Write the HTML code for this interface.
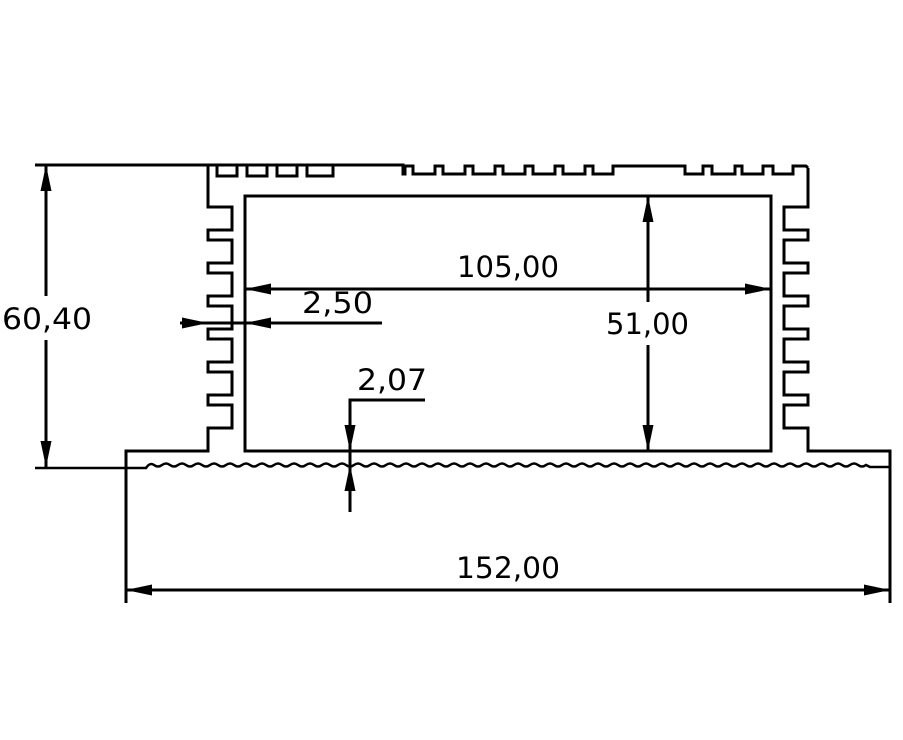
<!DOCTYPE html>
<html><head><meta charset="utf-8"><style>
html,body{margin:0;padding:0;background:#fff;}
svg{display:block}
text{font-family:"DejaVu Sans","Liberation Sans",sans-serif;font-size:29px;fill:#000}
</style></head><body>
<svg width="903" height="740" viewBox="0 0 903 740" xmlns="http://www.w3.org/2000/svg">
<defs>
<marker id="a" viewBox="0 0 26 12" refX="26" refY="6" markerWidth="26" markerHeight="12" markerUnits="userSpaceOnUse" orient="auto-start-reverse"><path d="M0,0.5 L26,6 L0,11.5 z" fill="#000"/></marker>
</defs>
<g fill="none" stroke="#000" stroke-width="3" stroke-linejoin="miter">
<line x1="35" y1="165" x2="368" y2="165"/>
<rect x="217" y="165" width="20" height="11"/>
<rect x="247" y="165" width="20" height="11"/>
<rect x="277" y="165" width="20" height="11"/>
<rect x="307" y="165" width="26" height="11"/>
<path d="M368,165 L403,165 L403,174 L405,174 L405,166 L413,166 L413,174 L435,174 L435,166 L443,166 L443,174 L465,174 L465,166 L473,166 L473,174 L495,174 L495,166 L503,166 L503,174 L525,174 L525,166 L533,166 L533,174 L555,174 L555,166 L563,166 L563,174 L585,174 L585,166 L593,166 L593,174 L613,174 L613,166 L685,166 L685,174 L703,174 L703,166 L712,166 L712,174 L735,174 L735,166 L742,166 L742,174 L763,174 L763,166 L773,166 L773,174 L793,174 L793,166 L806,166 L808,168"/>
<path d="M208,165 L208,207 L232,207 L232,230 L208,230 L208,240 L232,240 L232,263 L208,263 L208,273 L232,273 L232,296 L208,296 L208,306 L232,306 L232,329 L208,329 L208,339 L232,339 L232,362 L208,362 L208,372 L232,372 L232,395 L208,395 L208,405 L232,405 L232,428 L208,428 L208,451 L126,451 L126,603"/>
<path d="M808,168 L808,207 L784,207 L784,230 L808,230 L808,240 L784,240 L784,263 L808,263 L808,273 L784,273 L784,296 L808,296 L808,306 L784,306 L784,329 L808,329 L808,339 L784,339 L784,362 L808,362 L808,372 L784,372 L784,395 L808,395 L808,405 L784,405 L784,428 L808,428 L808,451 L890,451 L890,603"/>
<rect x="245" y="196" width="526" height="255"/>
<path d="M35,468 L146,468 Q150,462 154,465 T162,465 T170,465 T178,465 T186,465 T194,465 T202,465 T210,465 T218,465 T226,465 T234,465 T242,465 T250,465 T258,465 T266,465 T274,465 T282,465 T290,465 T298,465 T306,465 T314,465 T322,465 T330,465 T338,465 T346,465 T354,465 T362,465 T370,465 T378,465 T386,465 T394,465 T402,465 T410,465 T418,465 T426,465 T434,465 T442,465 T450,465 T458,465 T466,465 T474,465 T482,465 T490,465 T498,465 T506,465 T514,465 T522,465 T530,465 T538,465 T546,465 T554,465 T562,465 T570,465 T578,465 T586,465 T594,465 T602,465 T610,465 T618,465 T626,465 T634,465 T642,465 T650,465 T658,465 T666,465 T674,465 T682,465 T690,465 T698,465 T706,465 T714,465 T722,465 T730,465 T738,465 T746,465 T754,465 T762,465 T770,465 T778,465 T786,465 T794,465 T802,465 T810,465 T818,465 T826,465 T834,465 T842,465 T850,465 T858,465 T866,465 L870,467 L890,467" stroke-width="2.5"/>
<line x1="46" y1="165" x2="46" y2="296" marker-start="url(#a)"/>
<line x1="46" y1="340" x2="46" y2="467" marker-end="url(#a)"/>
<line x1="245" y1="289" x2="771" y2="289" marker-start="url(#a)" marker-end="url(#a)"/>
<line x1="648" y1="196" x2="648" y2="302" marker-start="url(#a)"/>
<line x1="648" y1="345" x2="648" y2="451" marker-end="url(#a)"/>
<line x1="180" y1="323" x2="208" y2="323" marker-end="url(#a)"/>
<line x1="208" y1="323" x2="245" y2="323"/>
<line x1="382" y1="323" x2="245" y2="323" marker-end="url(#a)"/>
<polyline points="425,400 350,400 350,451" marker-end="url(#a)"/>
<line x1="350" y1="512" x2="350" y2="465" marker-end="url(#a)"/>
<line x1="350" y1="451" x2="350" y2="465"/>
<line x1="126" y1="590" x2="890" y2="590" marker-start="url(#a)" marker-end="url(#a)"/>
</g>
<text x="2" y="329" textLength="90" lengthAdjust="spacingAndGlyphs">60,40</text>
<text x="457" y="277" textLength="102" lengthAdjust="spacingAndGlyphs">105,00</text>
<text x="606" y="334" textLength="83" lengthAdjust="spacingAndGlyphs">51,00</text>
<text x="302" y="313" textLength="71" lengthAdjust="spacingAndGlyphs">2,50</text>
<text x="357" y="390" textLength="70" lengthAdjust="spacingAndGlyphs">2,07</text>
<text x="456" y="578" textLength="104" lengthAdjust="spacingAndGlyphs">152,00</text>
</svg>
</body></html>
